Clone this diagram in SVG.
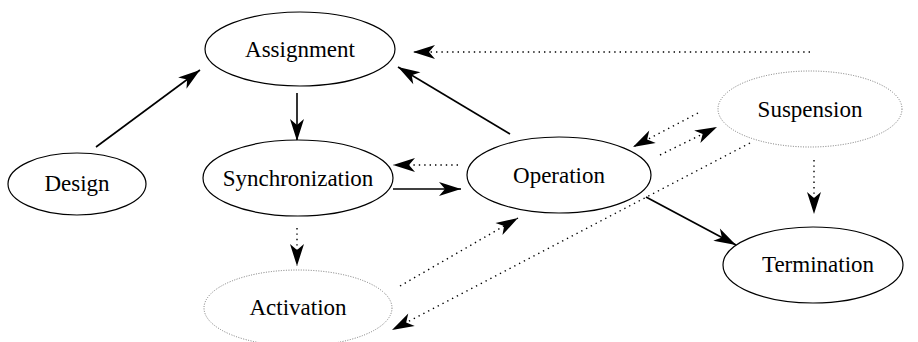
<svg xmlns="http://www.w3.org/2000/svg" width="918" height="342" viewBox="0 0 918 342">
<style>
.n{fill:#fff;stroke:#000;stroke-width:1.2}
.d{fill:#fff;stroke:#777;stroke-width:1;stroke-dasharray:1 1.5}
.t{font-family:"Liberation Serif","Times New Roman",serif;font-size:23px;text-anchor:middle;fill:#000}
.s{fill:none;stroke:#000;stroke-width:1.6;marker-end:url(#ah)}
.o{fill:none;stroke:#000;stroke-width:1.4;stroke-dasharray:1.4 4;marker-end:url(#ah)}
</style>
<defs>
<marker id="ah" viewBox="-23 -8 24 16" refX="0" refY="0" markerWidth="24" markerHeight="16" markerUnits="userSpaceOnUse" orient="auto">
<path d="M0,0 L-22,-7 L-16,0 L-22,7 Z" fill="#000"/>
</marker>
</defs>
<rect width="918" height="342" fill="#fff"/>
<g id="connectors">
<line class="s" x1="96" y1="147" x2="200" y2="70"/>
<line class="s" x1="297" y1="93" x2="297" y2="141"/>
<line class="s" x1="510" y1="134" x2="398" y2="67"/>
<line class="o" x1="810" y1="52" x2="413" y2="52"/>
<line class="o" x1="458" y1="165" x2="393" y2="165"/>
<line class="s" x1="393" y1="189" x2="461" y2="189"/>
<line class="o" x1="297" y1="228" x2="297" y2="266"/>
<line class="o" x1="400" y1="286" x2="518" y2="218"/>
<line class="o" x1="750" y1="143" x2="392" y2="330"/>
<line class="o" x1="698" y1="113" x2="633" y2="147"/>
<line class="o" x1="660" y1="155" x2="717" y2="127"/>
<line class="o" x1="814" y1="160" x2="814" y2="214"/>
<line class="s" x1="646" y1="197" x2="736" y2="245"/>
</g>
<g id="assignment"><ellipse class="n" cx="300" cy="49" rx="95" ry="37"/><text class="t" x="300" y="57">Assignment</text></g>
<g id="design"><ellipse class="n" cx="77" cy="184" rx="69" ry="31"/><text class="t" x="77" y="191">Design</text></g>
<g id="synchronization"><ellipse class="n" cx="298" cy="178" rx="95" ry="38"/><text class="t" x="298" y="186">Synchronization</text></g>
<g id="activation"><ellipse class="d" cx="298" cy="308" rx="94" ry="38"/><text class="t" x="298" y="315">Activation</text></g>
<g id="operation"><ellipse class="n" cx="559" cy="175" rx="92" ry="38"/><text class="t" x="559" y="183">Operation</text></g>
<g id="suspension"><ellipse class="d" cx="810" cy="109" rx="92" ry="38"/><text class="t" x="810" y="117">Suspension</text></g>
<g id="termination"><ellipse class="n" cx="813" cy="265" rx="90" ry="38"/><text class="t" x="818" y="272">Termination</text></g>
</svg>
